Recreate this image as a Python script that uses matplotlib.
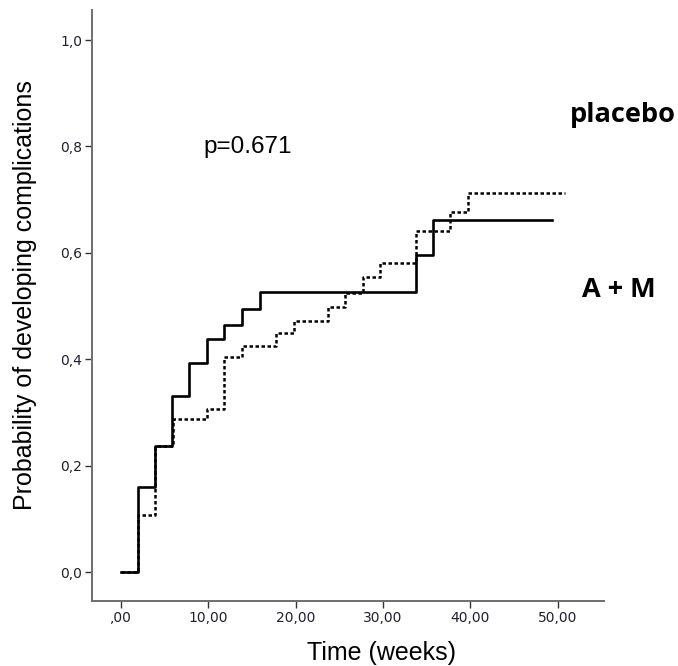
import matplotlib
matplotlib.use("Agg")
import matplotlib.pyplot as plt
from matplotlib.ticker import FuncFormatter

# ── Kaplan-Meier style step data ────────────────────────────────────
solid_t = [0.0, 1.9, 3.9, 5.85, 7.8, 9.8, 11.85, 13.9, 15.9, 33.75, 35.7, 49.4]
solid_p = [0.0, 0.159, 0.236, 0.331, 0.392, 0.438, 0.465, 0.494, 0.527, 0.595, 0.662, 0.662]

dotted_t = [0.0, 1.9, 3.95, 5.9, 9.8, 11.8, 13.85, 17.8, 19.8, 23.7, 25.7, 27.7,
            29.7, 33.75, 37.7, 39.7, 50.8]
dotted_p = [0.0, 0.107, 0.237, 0.287, 0.307, 0.404, 0.425, 0.449, 0.472, 0.498,
            0.525, 0.554, 0.581, 0.641, 0.677, 0.713, 0.713]

x_ticks = [0, 10, 20, 30, 40, 50]
y_ticks = [0.0, 0.2, 0.4, 0.6, 0.8, 1.0]

fig = plt.figure(figsize=(6.78, 6.66), dpi=100)
ax = fig.add_axes([0.1357, 0.0976, 0.755, 0.887])

ax.step(solid_t, solid_p, where="post", color="black", linewidth=1.9)
ax.step(dotted_t, dotted_p, where="post", color="black", linewidth=1.8,
        linestyle=(0, (1.4, 1.0)))

ax.set_xlim(-3.32, 55.3)
ax.set_ylim(-0.0545, 1.056)

ax.set_xticks(x_ticks)
ax.set_yticks(y_ticks)
ax.xaxis.set_major_formatter(FuncFormatter(
    lambda v, _: ",00" if v == 0 else f"{v:.2f}".replace(".", ",")))
ax.yaxis.set_major_formatter(FuncFormatter(
    lambda v, _: f"{v:.1f}".replace(".", ",")))
ax.tick_params(direction="out", length=5, width=1, colors="#333333",
               labelsize=10, labelcolor="#1f1f2e", pad=2)

for side in ("top", "right"):
    ax.spines[side].set_visible(False)
for side in ("left", "bottom"):
    ax.spines[side].set_color("#6e6e6e")
    ax.spines[side].set_linewidth(1.4)

ax.set_xlabel("Time (weeks)", fontsize=18, family="Liberation Sans", va="center")
ax.xaxis.set_label_coords(0.566, -0.088)
ax.set_ylabel("Probability of developing complications", fontsize=18,
              family="Liberation Sans", va="center")
ax.yaxis.set_label_coords(-0.131, 0.518)

ax.text(14.5, 0.799, "p=0.671", fontsize=17.5, family="Liberation Sans",
        ha="center", va="center")

fig.text(0.919, 0.828, "placebo", fontsize=19.5, fontweight="bold", family="Open Sans",
         ha="center", va="center")
fig.text(0.913, 0.565, "A + M", fontsize=19.5, fontweight="bold", family="Open Sans",
         ha="center", va="center")

fig.savefig("out.png", dpi=100, facecolor="white")
